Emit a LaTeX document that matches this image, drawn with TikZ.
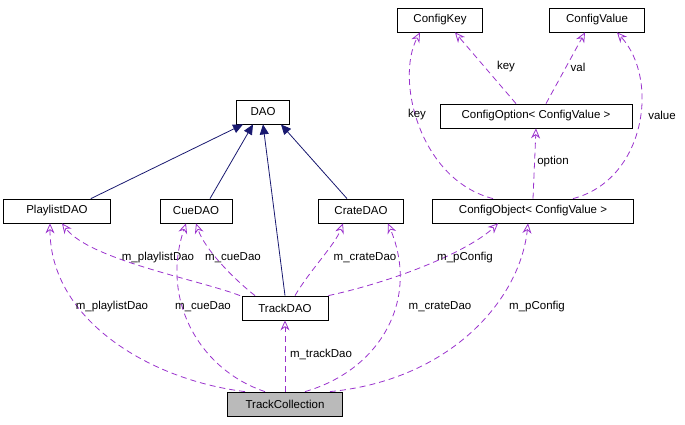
\documentclass[tikz,border=0pt]{standalone}
\usepackage{fontspec}
\setmainfont{Liberation Sans}
\usetikzlibrary{arrows.meta}
\definecolor{navyline}{RGB}{25,25,112}
\definecolor{orchid}{RGB}{154,50,205}
\begin{document}
\begin{tikzpicture}[x=1pt,y=-1pt,font=\fontsize{11.5}{13}\selectfont,
  cls/.style={draw,thick,minimum height=24pt,inner xsep=6pt,fill=white},
  inh/.style={draw=navyline,thick,-{Triangle[length=10pt,width=9pt]}},
  use/.style={draw=orchid,thick,dash pattern=on 6pt off 4pt,-{Stealth[length=10pt,width=9pt,open]}},
  lbl/.style={inner sep=1pt}]
  \useasboundingbox (0,0) rectangle (685,424);

  \node[cls,minimum width=85pt] (key) at (440,20) {ConfigKey};
  \node[cls,minimum width=95pt] (val) at (597,20) {ConfigValue};
  \node[cls,minimum width=53pt] (dao) at (263,112) {DAO};
  \node[cls,minimum width=192pt] (opt) at (536,116) {ConfigOption< ConfigValue >};
  \node[cls,minimum width=107pt] (pl) at (57,211) {PlaylistDAO};
  \node[cls,minimum width=72pt] (cue) at (196,211) {CueDAO};
  \node[cls,minimum width=85pt] (crate) at (361,211) {CrateDAO};
  \node[cls,minimum width=201pt] (obj) at (533,211) {ConfigObject< ConfigValue >};
  \node[cls,minimum width=86pt] (track) at (285,308) {TrackDAO};
  \node[cls,minimum width=115pt,fill=black!27] (tc) at (285,404) {TrackCollection};

  % inheritance
  \draw[inh] ([xshift=-20]pl.north east) -- ([xshift=-20]dao.south);
  \draw[inh] ([xshift=14]cue.north) -- ([xshift=-10]dao.south);
  \draw[inh] (track.north) -- (dao.south);
  \draw[inh] ([xshift=-14]crate.north) -- ([xshift=18]dao.south);

  % config
  \draw[use] ([xshift=-20]opt.north) -- ([xshift=15]key.south) node[lbl] at (506,67) {key};
  \draw[use] ([xshift=10]opt.north) -- ([xshift=-12]val.south) node[lbl] at (578,67) {val};
  \draw[use] (obj.north) -- (opt.south) node[lbl] at (553,162) {option};
  \draw[use] ([xshift=-40]obj.north) .. controls (420,180) and (395,80) .. ([xshift=-20]key.south) node[lbl] at (417,115) {key};
  \draw[use] ([xshift=40]obj.north) .. controls (645,180) and (660,80) .. ([xshift=20]val.south) node[lbl] at (662,115) {value};

  % TrackDAO members
  \draw[use] ([xshift=-45]track.north) .. controls (200,280) and (90,260) .. ([xshift=5]pl.south) node[lbl] at (158,258) {m\_playlistDao};
  \draw[use] ([xshift=-30]track.north) .. controls (235,280) and (205,250) .. (cue.south) node[lbl] at (233,258) {m\_cueDao};
  \draw[use] ([xshift=10]track.north) .. controls (310,270) and (335,245) .. ([xshift=-18]crate.south) node[lbl] at (365,258) {m\_crateDao};
  \draw[use] (track.north east) .. controls (400,280) and (470,250) .. ([xshift=-35]obj.south) node[lbl] at (465,258) {m\_pConfig};

  % TrackCollection members
  \draw[use] ([xshift=-40]tc.north) .. controls (150,380) and (50,320) .. ([xshift=-7]pl.south) node[lbl] at (112,307) {m\_playlistDao};
  \draw[use] ([xshift=-20]tc.north) .. controls (200,370) and (160,300) .. ([xshift=-10]cue.south) node[lbl] at (203,307) {m\_cueDao};
  \draw[use] (tc.north) -- (track.south) node[lbl] at (321,354) {m\_trackDao};
  \draw[use] ([xshift=20]tc.north) .. controls (380,370) and (420,300) .. ([xshift=27]crate.south) node[lbl] at (440,307) {m\_crateDao};
  \draw[use] ([xshift=45]tc.north) .. controls (450,380) and (520,300) .. ([xshift=-5]obj.south) node[lbl] at (537,307) {m\_pConfig};
\end{tikzpicture}
\end{document}
